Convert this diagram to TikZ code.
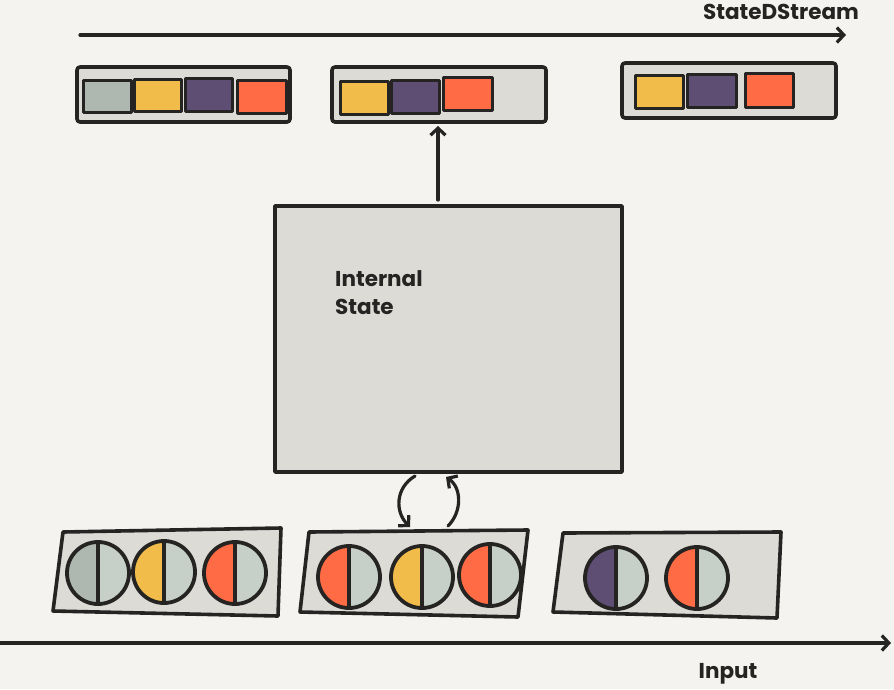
\documentclass[tikz,border=0pt]{standalone}
\usepackage{fontspec}
\setmainfont{Poppins}
\usetikzlibrary{arrows.meta}
\definecolor{bgc}{HTML}{F4F3EF}
\definecolor{boxc}{HTML}{DCDBD6}
\definecolor{inkc}{HTML}{252423}
\definecolor{yel}{HTML}{F2BC4B}
\definecolor{pur}{HTML}{5E4E73}
\definecolor{ora}{HTML}{FF6B45}
\definecolor{gdark}{HTML}{AEB8B1}
\definecolor{glight}{HTML}{C6D0C9}
\tikzset{
  ink/.style={draw=inkc, line width=3.6pt, line join=round, line cap=round},
  tray/.style={ink, fill=boxc, rounded corners=3pt},
  sq/.style={draw=inkc, line width=3pt, line join=round},
  arr/.style={ink, line width=3.2pt, -{Straight Barb[length=7pt,width=15pt]}},
  lbl/.style={font=\fontsize{21.5}{25}\selectfont\bfseries, text=inkc, inner sep=0pt},
}
\newcommand{\halfcirc}[3]{% x y left-colour
  \fill[#3] (#1,#2) ++(90:31) arc[start angle=90,end angle=270,radius=31] -- cycle;
  \fill[glight] (#1,#2) ++(-90:31) arc[start angle=-90,end angle=90,radius=31] -- cycle;
  \draw[ink, line width=3.8pt] (#1,#2) circle[radius=31];
  \draw[ink, line width=3.2pt] (#1,#2) ++(0,31) -- ++(0,-62);
}
\begin{document}
\begin{tikzpicture}[x=1pt,y=-1pt]
\path[fill=bgc] (0,0) rectangle (894,689);
\useasboundingbox (0,0) rectangle (894,689);

% top stream arrow
\coordinate (ts) at (80,35);
\coordinate (te) at (846,35);
\draw[arr] (ts) -- (te);
\node[lbl] (tlabel) at (781,12) {StateDStream};

% top trays
\draw[tray] (77,67) rectangle (290,122);
\draw[sq, fill=gdark] (83,80) rectangle (131,112);
\draw[sq, fill=yel] (134,79) rectangle (181,111);
\draw[sq, fill=pur] (185,78) rectangle (232,111);
\draw[sq, fill=ora] (237,80) rectangle (286,113);

\draw[tray] (332,67) rectangle (546,122);
\coordinate (t2b) at (438,126);
\draw[sq, fill=yel] (340,81) rectangle (388,114);
\draw[sq, fill=pur] (391,80) rectangle (439,113);
\draw[sq, fill=ora] (443,77) rectangle (492,110);

\draw[tray] (622,63) rectangle (836,118);
\draw[sq, fill=yel] (635,75) rectangle (683,108);
\draw[sq, fill=pur] (687,74) rectangle (736,107);
\draw[sq, fill=ora] (745,73) rectangle (793,107);

% internal state
\node[ink, fill=boxc, minimum width=347pt, minimum height=266pt, inner sep=0pt] (state) at (448.5,339) {};
\node[lbl, align=left, anchor=north west, font=\fontsize{21.5}{28}\selectfont\bfseries] (stxt) at (335,270) {Internal\\State};
\coordinate (sa) at (438,200);
\draw[arr] (sa) -- (t2b);

% loop arrows
\coordinate (l1) at (415,476);
\coordinate (l2) at (410,527);
\coordinate (r1) at (448,526);
\coordinate (r2) at (446,477);
\draw[arr] (l1) .. controls (395,488) and (395,512) .. (l2);
\draw[arr] (r1) .. controls (462,512) and (462,488) .. (r2);

% bottom trays
\draw[ink, fill=boxc] (63,532) -- (281,528) -- (278,616) -- (53,611) -- cycle;
\halfcirc{98}{573}{gdark}
\halfcirc{164}{572}{yel}
\halfcirc{235}{573}{ora}

\draw[ink, fill=boxc] (309,532) -- (528,530) -- (518,617) -- (300,612) -- cycle;
\halfcirc{349}{577}{ora}
\halfcirc{422}{577}{yel}
\halfcirc{490}{575}{ora}

\draw[ink, fill=boxc] (563,533) -- (781,532) -- (777,618) -- (553,612) -- cycle;
\halfcirc{616}{578}{pur}
\halfcirc{697}{578}{ora}

% input arrow
\coordinate (is) at (0,643);
\coordinate (ie) at (891,643);
\draw[arr] (is) -- (ie);
\node[lbl] (ilabel) at (728,674) {Input};
\end{tikzpicture}
\end{document}
